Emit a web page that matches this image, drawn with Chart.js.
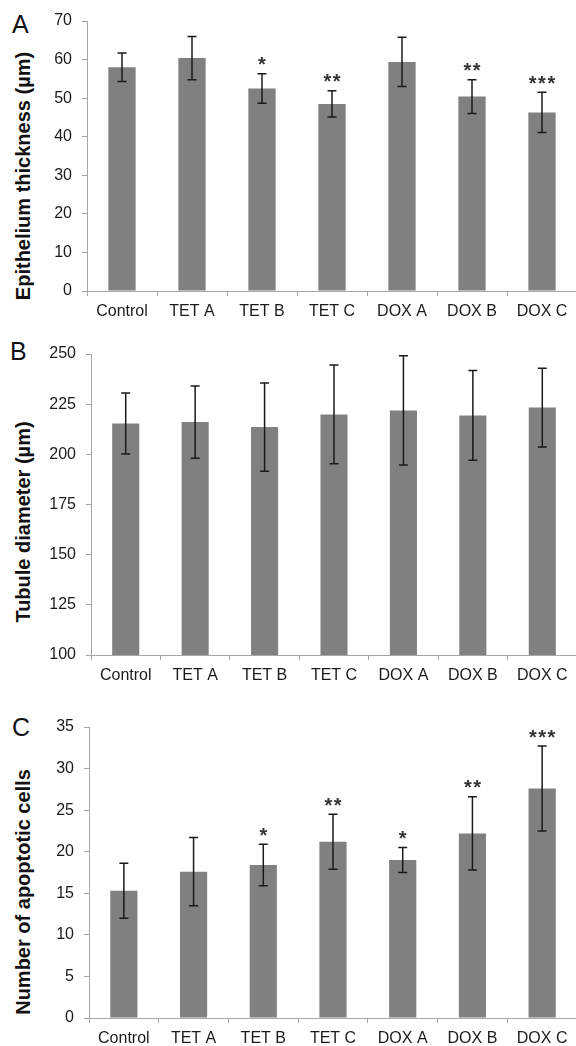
<!DOCTYPE html>
<html>
<head>
<meta charset="utf-8">
<script src="https://cdn.jsdelivr.net/npm/chart.js@4.4.0/dist/chart.umd.min.js"></script>
<style>
  body { margin: 0; background: #fff; overflow: hidden; font-family: "Liberation Sans", Arial, sans-serif; }
  #page { position: relative; width: 576px; height: 1046px; overflow: hidden; background: #fff; }
  .box { position: absolute; left: 0; width: 577px; }
  .letter { position: absolute; font-size: 25px; line-height: 25px; color: #111; }
  .ytitle { position: absolute; width: 300px; height: 22px; line-height: 22px; font-size: 20px; font-weight: bold;
            color: #111; text-align: center; white-space: nowrap; transform: rotate(-90deg); }
</style>
</head>
<body>
<div id="page">
  <div class="letter" style="left:12px;top:12px">A</div>
  <div class="letter" style="left:10px;top:339px">B</div>
  <div class="letter" style="left:12px;top:715px">C</div>

  <div class="ytitle" style="left:-127px;top:165px">Epithelium thickness (µm)</div>
  <div class="ytitle" style="left:-127px;top:511px">Tubule diameter (µm)</div>
  <div class="ytitle" style="left:-127px;top:881px">Number of apoptotic cells</div>

  <div class="box" style="top:0;height:331px"><canvas id="chartA"></canvas></div>
  <div class="box" style="top:330px;height:365px"><canvas id="chartB"></canvas></div>
  <div class="box" style="top:700px;height:358px"><canvas id="chartC"></canvas></div>
</div>

<script>
// ---- data ----
const groups = ['Control', 'TET A', 'TET B', 'TET C', 'DOX A', 'DOX B', 'DOX C'];

const epitheliumMean = [58.0, 60.4, 52.5, 48.5, 59.4, 50.4, 46.3];
const epitheliumErr  = [3.7, 5.6, 3.8, 3.4, 6.4, 4.4, 5.2];
const epitheliumSig  = ['', '', '*', '**', '', '**', '***'];

const tubuleMean = [215.4, 216.1, 213.6, 219.9, 221.9, 219.4, 223.3];
const tubuleErr  = [15.2, 18.0, 22.0, 24.6, 27.2, 22.4, 19.6];
const tubuleSig  = ['', '', '', '', '', '', ''];

const apoptoticMean = [15.3, 17.6, 18.4, 21.2, 19.0, 22.2, 27.6];
const apoptoticErr  = [3.3, 4.1, 2.5, 3.3, 1.5, 4.4, 5.1];
const apoptoticSig  = ['', '', '*', '**', '*', '**', '***'];

const yTicksA = { min: 0, max: 70, step: 10 };
const yTicksB = { min: 100, max: 250, step: 25 };
const yTicksC = { min: 0, max: 35, step: 5 };

// ---- look ----
const FONT = '"Liberation Sans", Arial, sans-serif';
const AXIS = '#a6a6a6';
const BAR = '#808080';
const INK = '#1a1a1a';

// error bars + significance stars, drawn from the dataset through the y scale
const errorBars = {
  id: 'errorBars',
  afterDatasetsDraw(chart) {
    const ctx = chart.ctx;
    const y = chart.scales.y;
    const ds = chart.data.datasets[0];
    const meta = chart.getDatasetMeta(0);
    ctx.save();
    meta.data.forEach((bar, i) => {
      const hi = y.getPixelForValue(ds.data[i] + ds.errors[i]);
      const lo = y.getPixelForValue(ds.data[i] - ds.errors[i]);
      ctx.strokeStyle = INK;
      ctx.lineWidth = 1.5;
      ctx.beginPath();
      ctx.moveTo(bar.x, hi); ctx.lineTo(bar.x, lo);
      ctx.moveTo(bar.x - 4.5, hi); ctx.lineTo(bar.x + 4.5, hi);
      ctx.moveTo(bar.x - 4.5, lo); ctx.lineTo(bar.x + 4.5, lo);
      ctx.stroke();
      if (ds.stars[i]) {
        ctx.fillStyle = '#333';
        ctx.font = 'bold 20px ' + FONT;
        ctx.textAlign = 'center';
        ctx.textBaseline = 'alphabetic';
        ctx.letterSpacing = '1.5px';
        ctx.fillText(ds.stars[i], bar.x + 0.75, hi - 2.5);
      }
    });
    ctx.restore();
  }
};

function makePanel(id, means, errs, stars, yt, axisWidth, padTop) {
  return new Chart(document.getElementById(id), {
    type: 'bar',
    data: {
      labels: groups,
      datasets: [{
        data: means,
        errors: errs,
        stars: stars,
        backgroundColor: BAR,
        borderWidth: 0,
        categoryPercentage: 0.39,
        barPercentage: 1
      }]
    },
    options: {
      responsive: true,
      maintainAspectRatio: false,
      animation: false,
      layout: { padding: { top: padTop, right: 0, left: 0, bottom: 0 } },
      plugins: { legend: { display: false }, tooltip: { enabled: false } },
      scales: {
        x: {
          grid: { drawOnChartArea: false, tickLength: 5, color: AXIS, offset: true },
          border: { color: AXIS, width: 1 },
          ticks: { color: INK, font: { family: FONT, size: 16 }, padding: 6, maxRotation: 0, autoSkip: false },
          afterFit: s => { s.height = 40; }
        },
        y: {
          min: yt.min,
          max: yt.max,
          grid: { drawOnChartArea: false, tickLength: 5, color: AXIS },
          border: { color: AXIS, width: 1 },
          ticks: { stepSize: yt.step, color: INK, font: { family: FONT, size: 16 }, padding: 10 },
          afterFit: s => { s.width = axisWidth; }
        }
      }
    },
    plugins: [errorBars]
  });
}

makePanel('chartA', epitheliumMean, epitheliumErr, epitheliumSig, yTicksA, 87, 21);
makePanel('chartB', tubuleMean, tubuleErr, tubuleSig, yTicksB, 91, 24);
makePanel('chartC', apoptoticMean, apoptoticErr, apoptoticSig, yTicksC, 89, 27);
</script>
</body>
</html>
